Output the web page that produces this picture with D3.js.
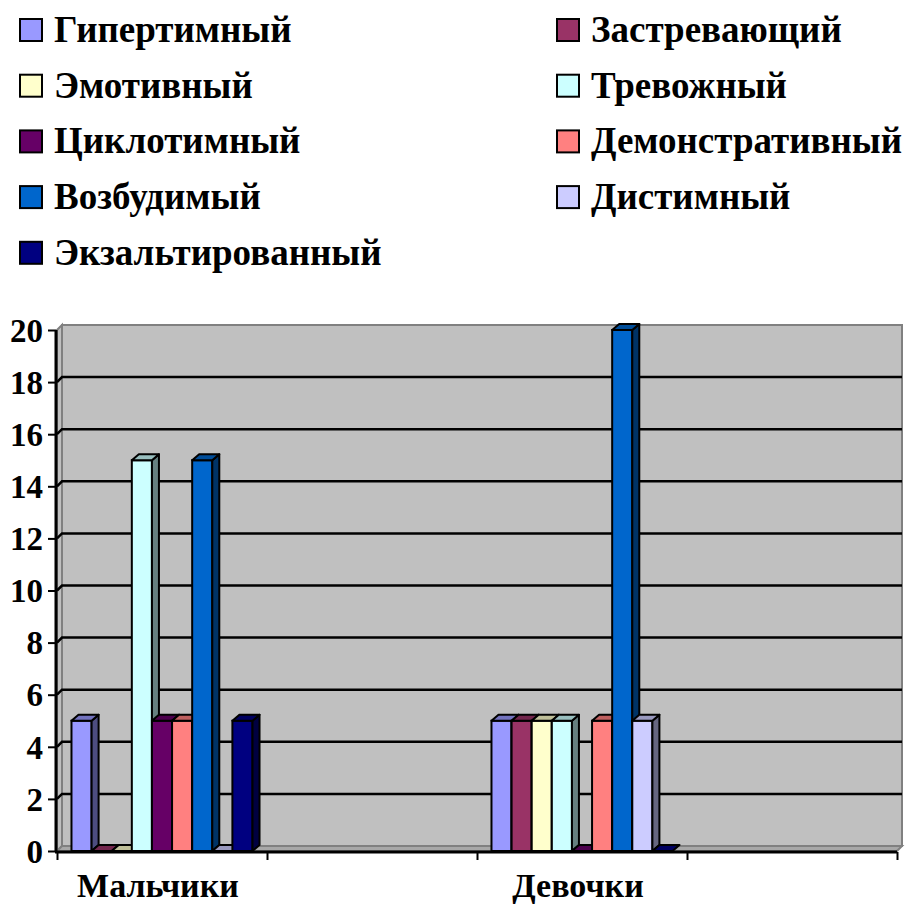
<!DOCTYPE html>
<html><head><meta charset="utf-8">
<script src="https://cdn.jsdelivr.net/npm/d3@7"></script>
<style>body{margin:0;background:#fff}svg{display:block}</style>
</head><body>
<script>
const categories = ["Мальчики", "", "Девочки", ""];
const seriesNames = ["Гипертимный","Застревающий","Эмотивный","Тревожный","Циклотимный","Демонстративный","Возбудимый","Дистимный","Экзальтированный"];
const seriesColors = ["#9999FF","#993366","#FFFFCC","#CCFFFF","#660066","#FF8080","#0066CC","#CCCCFF","#000080"];
const boysValues  = [5, 0, 0, 15, 5, 5, 15, 0, 5];
const girlsValues = [5, 5, 5, 5, 0, 5, 20, 5, 0];
const emptyValues = [null,null,null,null,null,null,null,null,null];
const yTicks = [0,2,4,6,8,10,12,14,16,18,20];

const values = [boysValues, emptyValues, girlsValues, emptyValues];
const W = 906, H = 906;
const svg = d3.select("body").append("svg").attr("width", W).attr("height", H);
const font = "'Liberation Serif','Times New Roman',serif";

const catIds = categories.map((c,i)=>i);
const x0 = d3.scaleBand().domain(catIds).range([57, 897]).paddingInner(0).paddingOuter(0);
const x1 = d3.scaleBand().domain(d3.range(seriesNames.length)).range([0, x0.bandwidth()]).paddingInner(0).paddingOuter(0.72);
const y = d3.scaleLinear().domain([0, 20]).range([851, 330]);
const wdx = 5, wdy = -5;  // wall depth
const bdx = 7, bdy = -6;  // bar depth

const g = svg.append("g");
// back wall
g.append("rect").attr("x", 57+wdx).attr("y", y(20)+wdy).attr("width", 897-57).attr("height", y(0)-y(20))
  .attr("fill", "#C0C0C0").attr("stroke", "#808080").attr("stroke-width", 2);
// left wall
g.append("path").attr("d", `M57,${y(0)}L57,${y(20)}L${57+wdx},${y(20)+wdy}L${57+wdx},${y(0)+wdy}Z`)
  .attr("fill", "#C0C0C0").attr("stroke", "#808080").attr("stroke-width", 2);
// floor
g.append("path").attr("d", `M57,${y(0)}L${57+wdx},${y(0)+wdy}L${897+wdx},${y(0)+wdy}L897,${y(0)}Z`)
  .attr("fill", "#A8A8A8").attr("stroke", "#808080").attr("stroke-width", 2);
// gridlines
yTicks.filter(t=>t>0 && t<20).forEach(t=>{
  g.append("path").attr("d", `M57,${y(t)}L${57+wdx},${y(t)+wdy}L${897+wdx},${y(t)+wdy}`)
    .attr("fill","none").attr("stroke","#000").attr("stroke-width",2.5);
});

function shade(c, k){ const r = d3.rgb(c); return d3.rgb(r.r*k, r.g*k, r.b*k).formatHex(); }

// bars
values.forEach((vals, ci)=>{
  vals.forEach((v, si)=>{
    if (v === null) return;
    const xl = x0(ci) + x1(si), w = x1.bandwidth();
    const yt = y(v), yb = y(0);
    const col = seriesColors[si];
    const bg = g.append("g");
    if (v > 0) {
      bg.append("rect").attr("x", xl).attr("y", yt).attr("width", w).attr("height", yb-yt)
        .attr("fill", col).attr("stroke","#000").attr("stroke-width",2);
      bg.append("path").attr("d", `M${xl+w},${yt}L${xl+w+bdx},${yt+bdy}L${xl+w+bdx},${yb+bdy}L${xl+w},${yb}Z`)
        .attr("fill", shade(col,0.5)).attr("stroke","#000").attr("stroke-width",2).attr("stroke-linejoin","round");
    }
    bg.append("path").attr("d", `M${xl},${yt}L${xl+bdx},${yt+bdy}L${xl+w+bdx},${yt+bdy}L${xl+w},${yt}Z`)
      .attr("fill", shade(col,0.75)).attr("stroke","#000").attr("stroke-width",2).attr("stroke-linejoin","round");
  });
});

// y axis
const yAxis = d3.axisLeft(y).tickValues(yTicks).tickSize(8).tickPadding(5).tickFormat(d3.format("d"));
const ya = svg.append("g").attr("transform","translate(56,0)").call(yAxis);
ya.select(".domain").attr("stroke","#000").attr("stroke-width",3).attr("d", `M0,${y(20)}V${y(0)+1}`);
ya.selectAll(".tick line").attr("stroke","#000").attr("stroke-width",2);
ya.selectAll(".tick text").attr("font-family",font).attr("font-weight","bold").attr("font-size",33).attr("fill","#000").attr("dy","0.34em");

// x axis
const xb = d3.scaleLinear().domain([0, categories.length]).range([57, 897]);
const xAxis = d3.axisBottom(xb).tickValues(d3.range(categories.length+1)).tickSize(8).tickFormat("");
const xa = svg.append("g").attr("transform",`translate(0,${y(0)+1})`).call(xAxis);
xa.select(".domain").attr("stroke","#000").attr("stroke-width",3).attr("d","M55,0H897");
xa.selectAll(".tick line").attr("stroke","#000").attr("stroke-width",2);
svg.append("g").selectAll("text").data(categories.map((c,i)=>({c,i})).filter(d=>d.c)).join("text")
  .attr("x", d=>x0(d.i)+x0.bandwidth()/2 - 4).attr("y", 897).attr("text-anchor","middle")
  .attr("font-family",font).attr("font-weight","bold").attr("font-size",34).text(d=>d.c);

// legend
const lg = svg.append("g");
seriesNames.forEach((n, i)=>{
  const col = i % 2, row = Math.floor(i/2);
  const bx = col === 0 ? 20 : 557;
  const base = 42 + row*55.7;
  lg.append("rect").attr("x", bx).attr("y", base-23).attr("width", 22).attr("height", 22)
    .attr("fill", seriesColors[i]).attr("stroke","#000").attr("stroke-width",2);
  lg.append("text").attr("x", bx+34).attr("y", base).attr("font-family",font).attr("font-weight","bold")
    .attr("font-size",37).text(n);
});
</script>
</body></html>
